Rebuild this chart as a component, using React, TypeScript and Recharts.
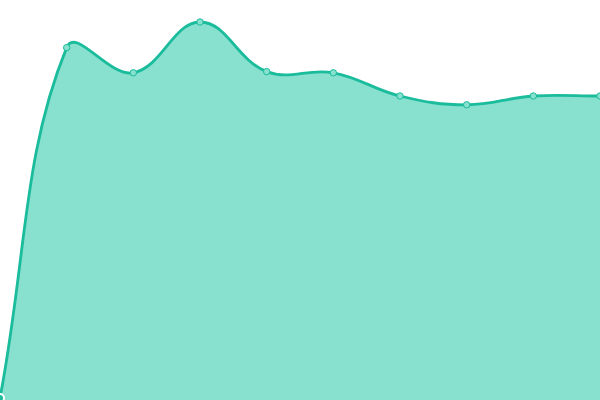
import { AreaChart, Area, XAxis, YAxis } from 'recharts'

const labels = ['1', '2', '3', '4', '5', '6', '7', '8', '9', '10']
const values = [0.5, 88.1, 81.8, 94.5, 82.1, 81.8, 76, 73.8, 76, 76]

const data = labels.map((name, i) => ({ name, value: values[i] }))

// tension spline (same control-point rule as Chart.js line tension)
function tensionCurve(tension: number) {
  return (ctx: any) => {
    let pts: [number, number][] = []
    let line = NaN
    return {
      areaStart() { line = 0 },
      areaEnd() { line = NaN },
      lineStart() { pts = [] },
      lineEnd() {
        const n = pts.length
        if (n) {
          const cps = pts.map((cur, i) => {
            const prev = pts[i - 1] || cur
            const next = pts[i + 1] || cur
            const d01 = Math.hypot(cur[0] - prev[0], cur[1] - prev[1])
            const d12 = Math.hypot(next[0] - cur[0], next[1] - cur[1])
            let s01 = d01 / (d01 + d12)
            let s12 = d12 / (d01 + d12)
            if (isNaN(s01)) s01 = 0
            if (isNaN(s12)) s12 = 0
            const fa = tension * s01
            const fb = tension * s12
            return {
              px: cur[0] - fa * (next[0] - prev[0]),
              py: cur[1] - fa * (next[1] - prev[1]),
              nx: cur[0] + fb * (next[0] - prev[0]),
              ny: cur[1] + fb * (next[1] - prev[1]),
            }
          })
          if (line) ctx.lineTo(pts[0][0], pts[0][1])
          else ctx.moveTo(pts[0][0], pts[0][1])
          for (let i = 1; i < n; i++) {
            ctx.bezierCurveTo(cps[i - 1].nx, cps[i - 1].ny, cps[i].px, cps[i].py, pts[i][0], pts[i][1])
          }
        }
        if (line || (line !== 0 && n === 1)) ctx.closePath()
        line = 1 - line
      },
      point(x: number, y: number) { pts.push([+x, +y]) },
    }
  }
}

export default function App() {
  return (
    <div style={{ position: 'absolute', left: 0, top: 0, width: 600, height: 400, background: '#fff' }}>
      <AreaChart width={600} height={400} data={data} margin={{ top: 0, right: 0, bottom: 0, left: 0 }}>
        <XAxis dataKey="name" hide />
        <YAxis domain={[0, 100]} hide />
        <Area
          type={tensionCurve(0.4) as any}
          dataKey="value"
          stroke="#1abc9c"
          strokeWidth={2.8}
          fill="#88e0cf"
          fillOpacity={1}
          dot={{ r: 3.2, fill: '#88e0cf', stroke: '#1abc9c', strokeWidth: 1 }}
          isAnimationActive={false}
        />
      </AreaChart>
    </div>
  )
}
